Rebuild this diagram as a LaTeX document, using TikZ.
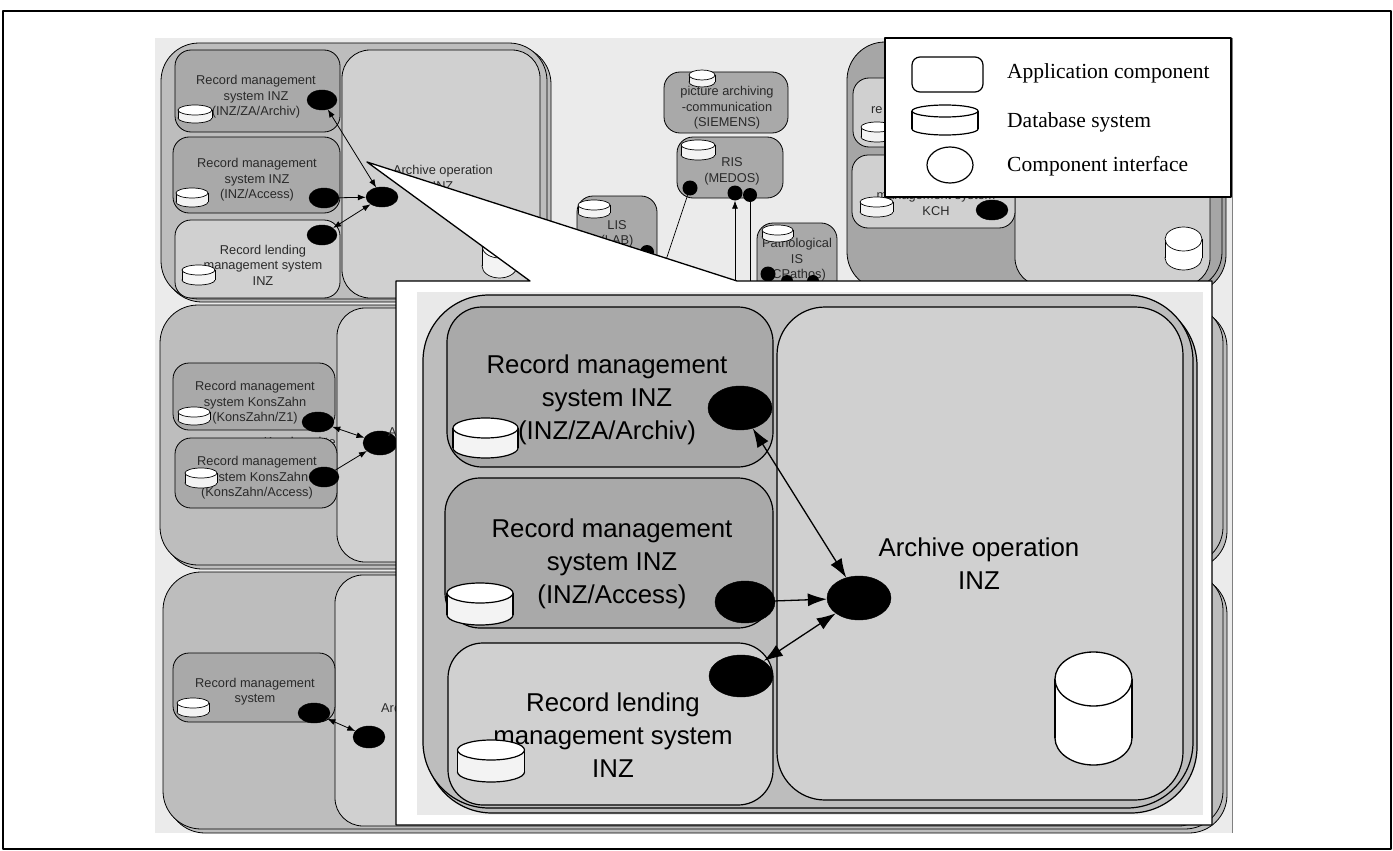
\documentclass[tikz,border=0pt]{standalone}
\usepackage{fontspec}
\setmainfont{Liberation Sans}
\newfontfamily\legendfont{Liberation Serif}
\usetikzlibrary{shapes.geometric,arrows.meta,fit}

\definecolor{bgpanel}{HTML}{EBEBEB}
\definecolor{grpgray}{HTML}{BDBDBD}
\definecolor{grpdark}{HTML}{A6A6A6}
\definecolor{darkbox}{HTML}{A9A9A9}
\definecolor{lightbox}{HTML}{D0D0D0}
\definecolor{insetbg}{HTML}{E9E9E9}
\definecolor{dbbody}{HTML}{F3F3F3}
\definecolor{txtgray}{HTML}{2A2A2A}

\newcommand\smalltxt{\fontsize{12.8}{15.5}\selectfont}
\newcommand\bigtxt{\fontsize{25.8}{33}\selectfont}
\newcommand\legtxt{\legendfont\fontsize{21.5}{25}\selectfont}

\tikzset{
  grp/.style={draw, line width=0.8pt, fill=grpgray, rounded corners=38pt, inner sep=0pt},
  sbox/.style={draw, line width=0.8pt, rounded corners=16pt, inner sep=0pt},
  abox/.style={draw, line width=0.8pt, fill=lightbox, rounded corners=28pt, inner sep=0pt},
  stxt/.style={font=\smalltxt, align=center, text=txtgray, inner sep=0pt},
  btxt/.style={font=\bigtxt, align=center, text=black, inner sep=0pt},
  bgif/.style={ellipse, fill=black, draw=black, inner sep=0pt, minimum width=30pt, minimum height=20pt},
  dot/.style={circle, fill=black, inner sep=0pt, minimum size=15pt},
  bgarrow/.style={line width=0.8pt},
  bgtip/.style={-{Latex[length=8pt,width=6pt]}},
  bgtips/.style={{Latex[length=8pt,width=6pt]}-{Latex[length=8pt,width=6pt]}},
  bigif/.style={ellipse, fill=black, draw=black, inner sep=0pt},
  bigarrow/.style={line width=1.3pt},
  bigtip/.style={-{Latex[length=19pt,width=13pt]}},
  bigtips/.style={{Latex[length=19pt,width=13pt]}-{Latex[length=19pt,width=13pt]}},
  pics/db/.style n args={3}{code={
    \pgfmathsetmacro\dbrx{#1/2}
    \pgfmathsetmacro\dbhy{#2/2-#3}
    \draw[fill=dbbody] (0,\dbhy) ellipse [x radius=\dbrx, y radius=#3];
    \fill[dbbody] (-\dbrx,-\dbhy) rectangle (\dbrx,\dbhy);
    \draw (-\dbrx,-\dbhy) -- (-\dbrx,\dbhy) (\dbrx,-\dbhy) -- (\dbrx,\dbhy);
    \draw[fill=white] (0,-\dbhy) ellipse [x radius=\dbrx, y radius=#3];
  }}
}

\begin{document}
\begin{tikzpicture}[x=1pt, y=-1pt, line join=round]
\useasboundingbox (0,0) rectangle (1393,851);
\fill[white] (0,0) rectangle (1393,851);
\draw[line width=1.2pt] (3,11) rectangle (1391,849);

% screen panel
\fill[bgpanel] (155,38) rectangle (1232,833);
\draw[gray, line width=0.6pt] (1232,38) -- (1232,833);

% ---------- bottom application group ----------
\node[grp, fit={(167,576) (1227,833)}] (blShadow) {};
\node[grp, fit={(163,572) (1223,829)}] (blGroup) {};
\node[abox, fit={(335,575) (1207,826)}] (blArch) {};
\node[sbox, fill=darkbox, fit={(173,653) (335,722)}] (blRec) {};
\node[stxt] (blRecTxt) at (255,691.5) {Record management\\system};
\pic[line width=0.7pt] at (193,707.5) {db={32}{19}{5}};
\node[bgif, minimum width=32pt] (blIfA) at (314,713) {};
\node[bgif, minimum width=32pt, minimum height=22pt] (blIfB) at (369,737) {};
\draw[bgarrow, bgtips] (blIfA) -- (blIfB);
\node[stxt, anchor=west] (blArchTxt) at (381,708) {Arc};

% ---------- middle application group ----------
\node[grp, fit={(164,309) (1227,569)}] (mlShadow) {};
\node[grp, fit={(160,305) (1223,565)}] (mlGroup) {};
\node[abox, fit={(337,308) (1207,562)}] (mlArch) {};
\node[sbox, fill=darkbox, fit={(173,363) (335,430)}] (mlZ1) {};
\node[stxt] (mlZ1Txt) at (255,403) {Record management\\system KonsZahn\\(KonsZahn/Z1)};
\pic[line width=0.7pt] at (194,416) {db={32}{18}{5}};
\node[stxt, anchor=east] (mlKrank) at (336,442) {Krankenakte};
\node[sbox, fill=darkbox, fit={(175,438) (337,508)}] (mlAcc) {};
\node[stxt] (mlAccTxt) at (257,478) {Record management\\system KonsZahn\\(KonsZahn/Access)};
\pic[line width=0.7pt] at (201,478) {db={32}{20}{5}};
\node[bgif, minimum width=32pt] (mlIfZ1) at (318,422) {};
\node[bgif, minimum width=30pt] (mlIfAcc) at (324,477) {};
\node[bgif, minimum width=34pt, minimum height=24pt] (mlIfArch) at (380,443) {};
\draw[bgarrow, bgtips] (mlIfZ1) -- (mlIfArch);
\draw[bgarrow, bgtip] (mlIfAcc) -- (mlIfArch);
\node[stxt, anchor=west] (mlArchTxt) at (388,432) {A};

% ---------- top-left application group ----------
\node[grp, fit={(164,46) (551,302)}] (tlShadow) {};
\node[grp, fit={(161,43) (547,299)}] (tlGroup) {};
\node[abox, fit={(342,50) (540,298)}] (tlArch) {};
\node[stxt] (tlArchTxt) at (443,178) {Archive operation\\INZ};
\pic[line width=0.7pt] at (499.5,256) {db={35}{44}{12}};
\node[sbox, fill=darkbox, fit={(175,50) (340,132)}] (tlZA) {};
\node[stxt] (tlZATxt) at (256,97) {Record management\\system INZ\\(INZ/ZA/Archiv)};
\pic[line width=0.7pt] at (195,114) {db={34}{18}{5}};
\node[sbox, fill=darkbox, fit={(173,137) (340,213)}] (tlAcc) {};
\node[stxt] (tlAccTxt) at (257,180) {Record management\\system INZ\\(INZ/Access)};
\pic[line width=0.7pt] at (192,197.5) {db={32}{19}{5}};
\node[sbox, fill=lightbox, fit={(175,220) (340,298)}] (tlLend) {};
\node[stxt] (tlLendTxt) at (263,265) {Record lending\\management system\\INZ};
\pic[line width=0.7pt] at (198.5,275) {db={33}{20}{5}};
\node[bgif] (tlIfZA) at (322,100) {};
\node[bgif] (tlIfAcc) at (324,198) {};
\node[bgif] (tlIfLend) at (322,235) {};
\node[bgif, minimum width=32pt] (tlIfArch) at (382,197) {};
\draw[bgarrow, bgtips] (tlIfZA) -- (tlIfArch);
\draw[bgarrow, bgtip] (tlIfAcc) -- (tlIfArch);
\draw[bgarrow, bgtips] (tlIfLend) -- (tlIfArch);

% ---------- clinical systems in the middle ----------
\node[sbox, fill=darkbox, fit={(664,72) (788,133)}] (pacs) {};
\node[stxt] (pacsTxt) at (727,108) {picture archiving\\-communication\\(SIEMENS)};
\pic[line width=0.7pt] at (702,78.5) {db={26}{17}{5}};
\node[sbox, fill=darkbox, fit={(677,137) (783,198)}] (ris) {};
\node[stxt] (risTxt) at (732,171.5) {RIS\\(MEDOS)};
\pic[line width=0.7pt] at (698,150) {db={34}{20}{5}};
\node[sbox, fill=darkbox, fit={(577,196) (657,300)}] (lis) {};
\node[stxt] (lisTxt) at (617,234) {LIS\\(LAB)};
\pic[line width=0.7pt] at (594,209) {db={32}{18}{5}};
\node[sbox, fill=darkbox, fit={(757,223) (837,300)}] (patho) {};
\node[stxt] (pathoTxt) at (797,260) {Pathological\\IS\\(CPathos)};
\pic[line width=0.7pt] at (777.5,233.5) {db={31}{17}{5}};
\node[dot] (risIfA) at (690,188) {};
\node[dot] (risIfB) at (735,193) {};
\node[dot, minimum size=14pt] (risIfC) at (750,195) {};
\node[dot, minimum size=14pt] (lisIf) at (647,252) {};
\node[dot] (pathoIfA) at (768,274) {};
\node[dot, minimum size=12pt] (pathoIfB) at (787,281) {};
\node[dot, minimum size=12pt] (pathoIfC) at (813,281) {};
\coordinate (risLinkA) at (664,266);
\coordinate (risLinkB) at (735,290);
\coordinate (risLinkC) at (750,290);
\draw[line width=0.7pt] (risIfA) -- (risLinkA);
\draw[line width=0.7pt, bgtip] (risLinkB) -- (risIfB);
\draw[line width=0.7pt] (risIfC) -- (risLinkC);

% ---------- top-right application group ----------
\node[grp, fill=grpdark, fit={(851,45) (1226,293)}] (trShadow) {};
\node[grp, fill=grpdark, fit={(847,42) (1222,290)}] (trGroup) {};
\node[abox, fit={(1015,50) (1210,286)}] (trArch) {};
\begin{scope}
  \colorlet{dbbody}{white}
  \pic[line width=0.7pt] at (1183.5,248.5) {db={37}{43}{12}};
\end{scope}
\node[sbox, fill=lightbox, fit={(853,78) (1000,147)}] (trRe) {};
\node[stxt, anchor=west] (trReTxt) at (871,110) {re};
\pic[line width=0.7pt] at (877,132) {db={32}{20}{5}};
\node[sbox, fill=lightbox, fit={(852,155) (1015,228)}] (trKch) {};
\node[stxt] (trKchTxt) at (936,203.5) {management system\\KCH};
\pic[line width=0.7pt] at (876.5,207) {db={33}{20}{5}};
\node[bgif, minimum width=32pt] (trIf) at (992,210) {};

% ---------- legend ----------
\node[draw, fill=white, line width=1.2pt, inner sep=0pt, fit={(885,38) (1231,197)}] (legend) {};
\node[draw, line width=1.2pt, rounded corners=8pt, inner sep=0pt, fit={(912,57) (983,92)}] (legApp) {};
\begin{scope}
  \colorlet{dbbody}{white}
  \pic[line width=1.2pt] at (945,120) {db={66}{30}{6}};
\end{scope}
\node[ellipse, draw, line width=1.2pt, inner sep=0pt, minimum width=46pt, minimum height=36pt] (legIf) at (950,165) {};
\node[font=\legtxt, anchor=west, inner sep=0pt] (legAppTxt) at (1007,73) {Application component};
\node[font=\legtxt, anchor=west, inner sep=0pt] (legDbTxt) at (1007,122) {Database system};
\node[font=\legtxt, anchor=west, inner sep=0pt] (legIfTxt) at (1007,166) {Component interface};

% ---------- enlarged detail of the INZ group ----------
\coordinate (calloutTip) at (367,162);
\draw[line width=1.3pt, fill=white] (396,281) -- (530,281) -- (calloutTip) -- (737,281)
  -- (1212,281) -- (1212,825) -- (396,825) -- cycle;
\fill[insetbg] (417,292) rectangle (1203,815);

\node[grp, line width=1.2pt, rounded corners=66pt, fit={(426,300) (1197,813)}] (inShadow) {};
\node[grp, line width=1.2pt, rounded corners=66pt, fit={(423,295) (1193,808)}] (inGroup) {};
\node[abox, line width=1.2pt, rounded corners=48pt, fit={(777,307) (1183,800)}] (inArch) {};
\node[btxt] (inArchTxt) at (979,564) {Archive operation\\INZ};
\begin{scope}
  \colorlet{dbbody}{white}
  \pic[line width=1.3pt] at (1093.5,708.5) {db={77}{113}{27}};
\end{scope}

\node[sbox, line width=1.2pt, rounded corners=35pt, fill=darkbox, fit={(447,307) (773,467)}] (inZA) {};
\node[btxt] (inZATxt) at (607,400) {Record management\\system INZ\\(INZ/ZA/Archiv)};
\pic[line width=1.2pt] at (485.5,438) {db={65}{40}{10}};

\node[sbox, line width=1.2pt, rounded corners=35pt, fill=darkbox, fit={(445,478) (773,628)}] (inAcc) {};
\node[btxt] (inAccTxt) at (612,564) {Record management\\system INZ\\(INZ/Access)};
\pic[line width=1.2pt] at (480,604) {db={66}{42}{10}};

\node[sbox, line width=1.2pt, rounded corners=35pt, fill=lightbox, fit={(448,643) (773,805)}] (inLend) {};
\node[btxt] (inLendTxt) at (613,735) {Record lending\\management system\\INZ};
\pic[line width=1.2pt] at (491,761) {db={67}{42}{10}};

\node[bigif, minimum width=64pt, minimum height=44pt] (inIfZA) at (740,408) {};
\node[bigif, minimum width=60pt, minimum height=42pt] (inIfAcc) at (745,602) {};
\node[bigif, minimum width=64pt, minimum height=42pt] (inIfLend) at (741,676) {};
\node[bigif, minimum width=64pt, minimum height=44pt] (inIfArch) at (859,598) {};
\draw[bigarrow, bigtips] (inIfZA) -- (inIfArch);
\draw[bigarrow, bigtip] (inIfAcc) -- (inIfArch);
\draw[bigarrow, bigtips] (inIfLend) -- (inIfArch);
\end{tikzpicture}
\end{document}
